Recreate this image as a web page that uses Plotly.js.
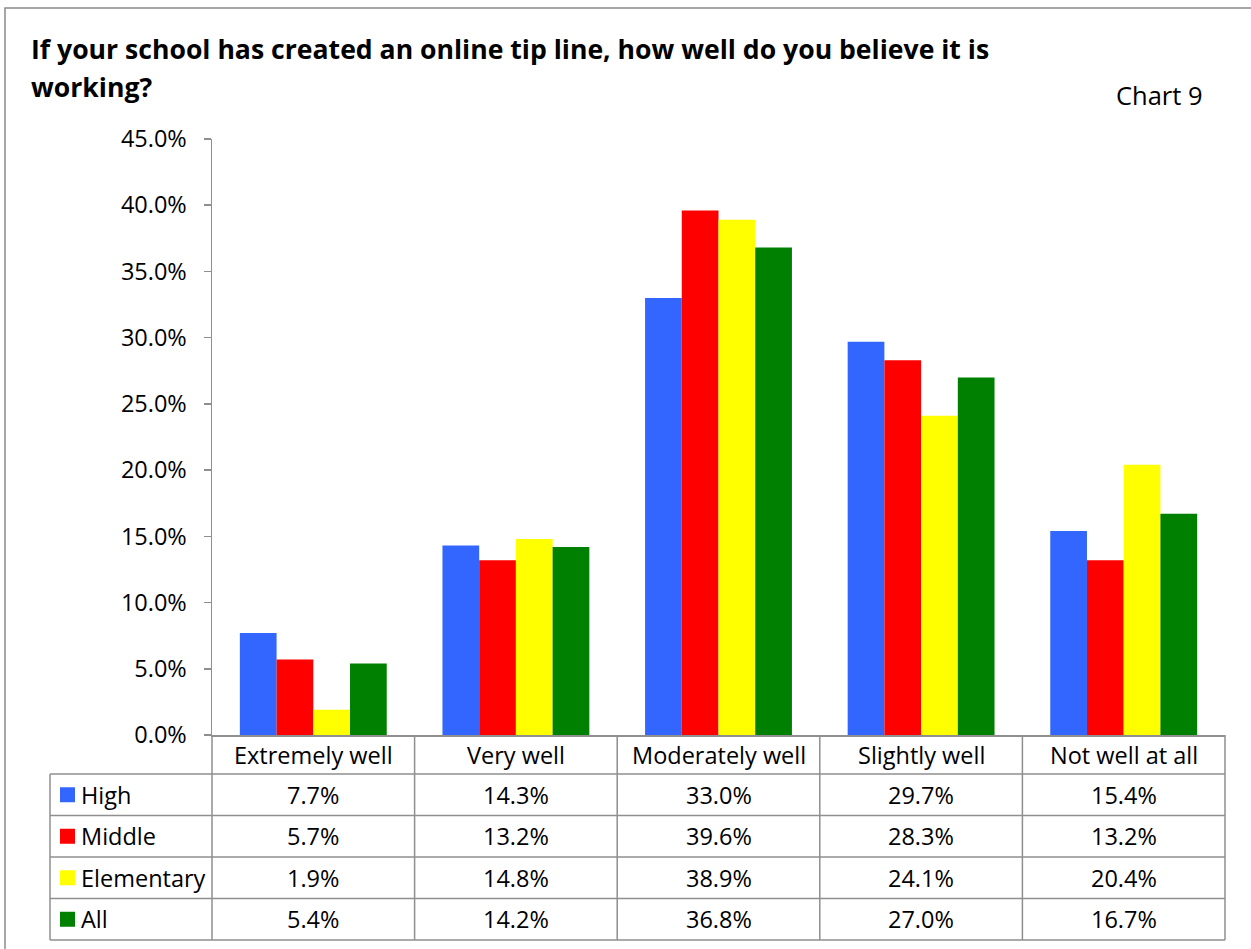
<!DOCTYPE html>
<html>
<head>
<meta charset="utf-8">
<script src="https://cdn.plot.ly/plotly-3.0.1.min.js"></script>
<style>html,body{margin:0;padding:0;background:#fff;}#chart{width:1251px;height:949px;}</style>
</head>
<body>
<div id="chart"></div>
<script>
const categories = ['Extremely well', 'Very well', 'Moderately well', 'Slightly well', 'Not well at all'];
const seriesNames = ['High', 'Middle', 'Elementary', 'All'];
const high = [7.7, 14.3, 33.0, 29.7, 15.4];
const middle = [5.7, 13.2, 39.6, 28.3, 13.2];
const elementary = [1.9, 14.8, 38.9, 24.1, 20.4];
const allSchools = [5.4, 14.2, 36.8, 27.0, 16.7];
const titleLines = ['If your school has created an online tip line, how well do you believe it is', 'working?'];
const chartLabel = 'Chart 9';

const seriesValues = [high, middle, elementary, allSchools];
const colors = ['#3366FF', '#FF0000', '#FFFF00', '#008000'];

const W = 1251, H = 949;
const L = 212, R = 26, T = 139, B = 214;
const PW = W - L - R, PH = H - T - B;
const px = x => (x - L) / PW;
const py = y => (H - B - y) / PH;

const FONT = '"Open Sans", sans-serif';
const gridColor = '#8f8f8f';
const textSize = 23.5;

const traces = seriesNames.map((name, i) => ({
  type: 'bar',
  name: name,
  x: categories,
  y: seriesValues[i],
  marker: {color: colors[i], line: {width: 0}},
  hoverinfo: 'x+y+name'
}));

const shapes = [];
const annotations = [];

// outer frame
shapes.push({type: 'rect', xref: 'paper', yref: 'paper', x0: px(5), x1: px(1270), y0: py(8), y1: py(970),
  line: {color: '#8a8a8a', width: 1.5}, fillcolor: 'rgba(0,0,0,0)', layer: 'below'});

// table geometry
const headerTop = 735, headerBottom = 774, rowH = 41.5;
const colW = PW / categories.length;
const legendLeft = 50;
const tableBottom = headerBottom + rowH * seriesNames.length;
const lineStyle = {color: gridColor, width: 1.5};

for (let k = 0; k <= categories.length; k++) {
  const x = L + k * colW;
  shapes.push({type: 'line', xref: 'paper', yref: 'paper', x0: px(x), x1: px(x), y0: py(headerTop), y1: py(tableBottom), line: lineStyle});
}
shapes.push({type: 'line', xref: 'paper', yref: 'paper', x0: px(legendLeft), x1: px(legendLeft), y0: py(headerBottom), y1: py(tableBottom), line: lineStyle});
for (let r = 0; r <= seriesNames.length; r++) {
  const y = headerBottom + r * rowH;
  shapes.push({type: 'line', xref: 'paper', yref: 'paper', x0: px(legendLeft), x1: px(L + PW), y0: py(y), y1: py(y), line: lineStyle});
}

categories.forEach(c => {
  annotations.push({xref: 'x', yref: 'paper', x: c, y: py((headerTop + headerBottom) / 2), text: c, showarrow: false,
    xanchor: 'center', yanchor: 'middle', font: {family: FONT, size: textSize, color: '#000'}});
});

seriesNames.forEach((name, i) => {
  const cy = headerBottom + rowH * i + rowH / 2;
  shapes.push({type: 'rect', xref: 'paper', yref: 'paper', x0: px(60), x1: px(75), y0: py(cy - 7.5), y1: py(cy + 7.5),
    fillcolor: colors[i], line: {width: 0}});
  annotations.push({xref: 'paper', yref: 'paper', x: px(79), y: py(cy), text: name, showarrow: false,
    xanchor: 'left', yanchor: 'middle', font: {family: FONT, size: textSize, color: '#000'}});
  seriesValues[i].forEach((v, j) => {
    annotations.push({xref: 'x', yref: 'paper', x: categories[j], y: py(cy), text: v.toFixed(1) + '%', showarrow: false,
      xanchor: 'center', yanchor: 'middle', font: {family: FONT, size: textSize, color: '#000'}});
  });
});

// title lines
const titleCenters = [49, 87];
titleLines.forEach((t, i) => {
  annotations.push({xref: 'paper', yref: 'paper', x: px(29), y: py(titleCenters[i]), text: '<b>' + t + '</b>', showarrow: false,
    xanchor: 'left', yanchor: 'middle', align: 'left', font: {family: FONT, size: 26.6, color: '#000'}});
});
annotations.push({xref: 'paper', yref: 'paper', x: px(1205), y: py(95), text: chartLabel, showarrow: false,
  xanchor: 'right', yanchor: 'middle', font: {family: FONT, size: 25.5, color: '#000'}});

const layout = {
  width: W, height: H,
  margin: {l: L, r: R, t: T, b: B, pad: 0},
  paper_bgcolor: '#fff', plot_bgcolor: '#fff',
  showlegend: false,
  barmode: 'group',
  bargap: 0.275,
  bargroupgap: 0,
  xaxis: {type: 'category', showticklabels: false, ticks: '', showline: true, linecolor: gridColor, linewidth: 1.5,
    showgrid: false, zeroline: false, fixedrange: true},
  yaxis: {range: [0, 45], dtick: 5, tick0: 0, tickformat: '.1f', ticksuffix: '%', ticks: 'outside', ticklen: 7,
    tickcolor: gridColor, tickwidth: 1.5, showline: true, linecolor: gridColor, linewidth: 1.5, showgrid: false,
    zeroline: false, ticklabelstandoff: 12, tickfont: {family: FONT, size: textSize, color: '#000'}, fixedrange: true},
  shapes: shapes,
  annotations: annotations
};

Plotly.newPlot('chart', traces, layout, {displayModeBar: false, staticPlot: true});
</script>
</body>
</html>
